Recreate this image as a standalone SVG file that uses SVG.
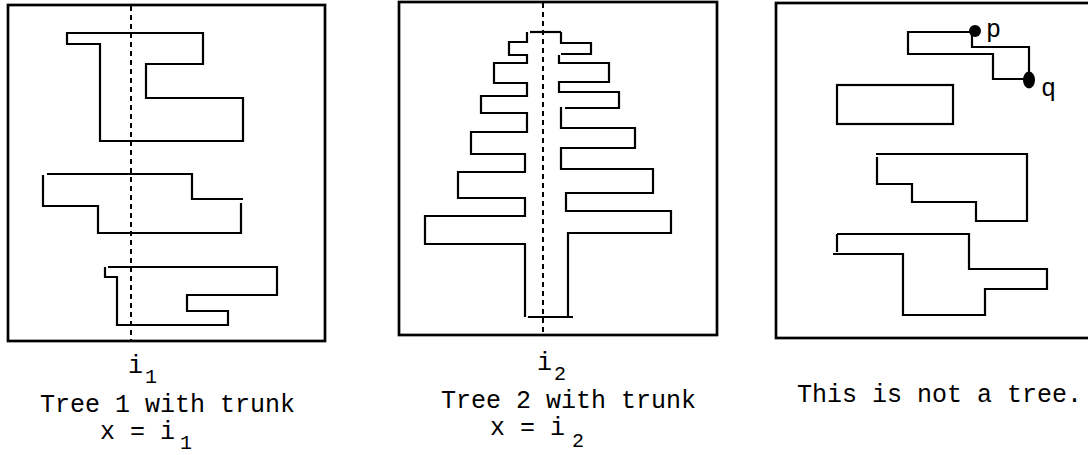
<svg xmlns="http://www.w3.org/2000/svg" width="1088" height="455" viewBox="0 0 1088 455">
<style>
.frame{fill:none;stroke:#000;stroke-width:2.7}
.ln{fill:none;stroke:#000;stroke-width:2.2;stroke-linejoin:miter;stroke-linecap:butt}
.dash{fill:none;stroke:#000;stroke-width:2;stroke-dasharray:5 4}
.t{font-family:"Liberation Mono","DejaVu Sans Mono",monospace;font-size:25px;fill:#000}
.s{font-family:"Liberation Mono","DejaVu Sans Mono",monospace;font-size:20px;fill:#000}
</style>
<rect width="1088" height="455" fill="#fff"/>
<g id="panel1">
<rect class="frame" x="8" y="5" width="317" height="336"/>
<path class="ln" d="M67,33 H203 V64 H146 V98 H243 V141 H100 V44 H67 Z"/>
<path class="ln" d="M47,174 H192 V199 H243 M241,203 V233 H98 V206 H43 V175"/>
<path class="ln" d="M108,267 H277 V295 H187 V311 H228 V325 H117 V277 H105 V267"/>
<line class="dash" x1="131" y1="6" x2="131" y2="341"/>
<text class="t" x="128" y="373">i</text><text class="s" x="145" y="383">1</text>
<text class="t" x="40" y="412">Tree 1 with trunk</text>
<text class="t" x="100" y="439">x = i</text><text class="s" x="180" y="449">1</text>
</g>
<g id="panel2">
<rect class="frame" x="399" y="2" width="318" height="333"/>
<path class="ln" d="M530,32 H561"/>
<path class="ln" d="M527,32 V42 H509 V55 H527 V63 H494 V83 H527 V96 H481 V113 H527 V132 H471 V154 H525 V172 H458 V198 H525 V216 H425 V244 H525 V317"/>
<path class="ln" d="M561,32 V43 H591 V54 H561 M559,55 V63 H609 V82 H559 V92 H619 V108 H565 M561,107 V128 H635 V148 H561 V169 H653 V193 H566 V211 H671 V233 H568 V317"/>
<path class="ln" d="M528,317 H573"/>
<line class="dash" x1="543" y1="3" x2="543" y2="335"/>
<text class="t" x="537" y="370">i</text><text class="s" x="554" y="380">2</text>
<text class="t" x="441" y="408">Tree 2 with trunk</text>
<text class="t" x="490" y="435">x = i</text><text class="s" x="572" y="447">2</text>
</g>
<g id="panel3">
<rect class="frame" x="776" y="3" width="330" height="335"/>
<path class="ln" d="M975,32 H908 V54 H993 V79 H1029 V47 H972 V32"/>
<circle cx="975" cy="31" r="6" fill="#000"/>
<ellipse cx="1029" cy="80" rx="6" ry="8.5" fill="#000"/>
<text class="t" x="986" y="37">p</text>
<text class="t" x="1041" y="96">q</text>
<rect class="ln" x="837" y="85" width="116" height="39"/>
<path class="ln" d="M876,154 H1027 V221 H976 V202 H912 V184 H877 V157"/>
<path class="ln" d="M837,234 H969 V269 H1047 V289 H985 V315 H903 V254 H833 M837,234 V252"/>
<text class="t" x="797" y="402">This is not a tree.</text>
</g>
</svg>
